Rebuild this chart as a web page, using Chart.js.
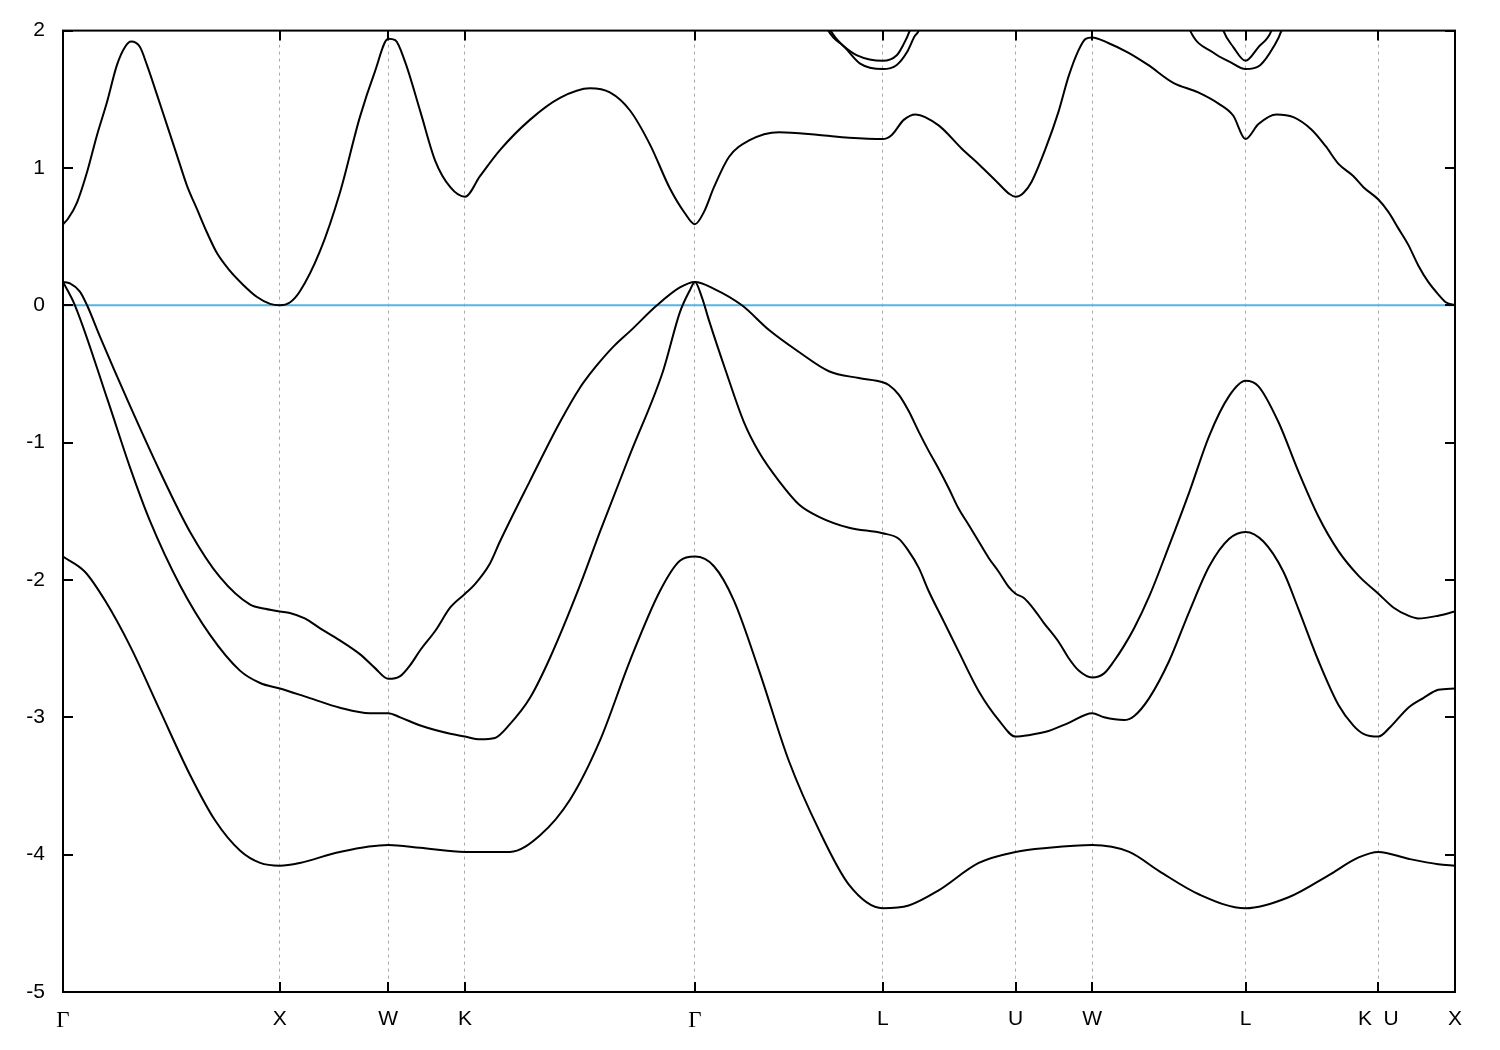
<!DOCTYPE html>
<html>
<head>
<meta charset="utf-8">
<script src="https://cdn.jsdelivr.net/npm/chart.js@4.4.1/dist/chart.umd.min.js"></script>
<style>
  html, body { margin: 0; padding: 0; background: #fff; }
</style>
</head>
<body>
<canvas id="bands" width="1500" height="1050"></canvas>
<script>
// high-symmetry points along the path (units of 2pi/a)
const kTicks = [0, 1, 1.5, 1.8536, 2.9142, 3.7802, 4.3926, 4.7462, 5.4533, 6.0657, 6.4193];
const kLabels = ["Γ", "X", "W", "K", "Γ", "L", "U", "W", "L", "K  U", "X"];
const eTicks = [-5, -4, -3, -2, -1, 0, 1, 2];

// bands as [k, E] pairs (eV)
const band1 = [[0,-1.83],[0.101,-1.94],[0.194,-2.15],[0.309,-2.48],[0.447,-2.95],[0.586,-3.42],[0.701,-3.75],[0.816,-3.97],[0.909,-4.06],[1.0,-4.08],[1.092,-4.06],[1.277,-3.98],[1.5,-3.93],[1.648,-3.95],[1.854,-3.98],[2.061,-3.98],[2.199,-3.86],[2.338,-3.60],[2.476,-3.17],[2.614,-2.59],[2.753,-2.08],[2.845,-1.86],[2.914,-1.83],[3.002,-1.90],[3.094,-2.15],[3.210,-2.66],[3.348,-3.32],[3.486,-3.82],[3.625,-4.22],[3.780,-4.39],[3.900,-4.37],[4.038,-4.26],[4.223,-4.06],[4.393,-3.98],[4.545,-3.95],[4.746,-3.93],[4.917,-3.98],[5.055,-4.12],[5.240,-4.29],[5.453,-4.39],[5.652,-4.31],[5.836,-4.15],[5.975,-4.02],[6.066,-3.98],[6.204,-4.03],[6.342,-4.07],[6.419,-4.08]];

const band2 = [[0,0.17],[0.055,0.0],[0.208,-0.70],[0.309,-1.18],[0.401,-1.57],[0.540,-2.04],[0.678,-2.40],[0.816,-2.66],[0.909,-2.75],[1.0,-2.79],[1.138,-2.86],[1.277,-2.93],[1.415,-2.97],[1.5,-2.97],[1.555,-3.00],[1.648,-3.06],[1.786,-3.12],[1.854,-3.14],[1.923,-3.16],[1.992,-3.15],[2.061,-3.05],[2.153,-2.86],[2.245,-2.57],[2.384,-2.04],[2.476,-1.65],[2.614,-1.09],[2.767,-0.48],[2.845,-0.05],[2.891,0.11],[2.914,0.17],[2.946,0.06],[2.979,-0.11],[3.057,-0.48],[3.140,-0.85],[3.210,-1.07],[3.302,-1.28],[3.394,-1.45],[3.486,-1.54],[3.625,-1.62],[3.780,-1.66],[3.854,-1.70],[3.900,-1.79],[3.946,-1.91],[3.992,-2.08],[4.061,-2.30],[4.130,-2.52],[4.223,-2.81],[4.315,-3.02],[4.393,-3.14],[4.453,-3.13],[4.545,-3.10],[4.638,-3.04],[4.746,-2.97],[4.801,-3.00],[4.893,-3.02],[4.940,-2.99],[5.009,-2.86],[5.101,-2.59],[5.194,-2.23],[5.286,-1.90],[5.378,-1.70],[5.453,-1.65],[5.536,-1.72],[5.628,-1.94],[5.697,-2.21],[5.790,-2.59],[5.882,-2.91],[5.951,-3.06],[5.997,-3.12],[6.066,-3.14],[6.121,-3.07],[6.204,-2.93],[6.273,-2.86],[6.342,-2.80],[6.419,-2.79]];

const band3 = [[0,0.17],[0.032,0.16],[0.078,0.10],[0.111,0.0],[0.171,-0.23],[0.300,-0.70],[0.447,-1.21],[0.586,-1.65],[0.724,-1.98],[0.863,-2.18],[0.932,-2.21],[1.0,-2.23],[1.046,-2.24],[1.115,-2.28],[1.184,-2.35],[1.277,-2.44],[1.369,-2.54],[1.438,-2.64],[1.5,-2.72],[1.555,-2.70],[1.601,-2.62],[1.648,-2.51],[1.717,-2.37],[1.786,-2.20],[1.854,-2.10],[1.900,-2.03],[1.969,-1.88],[2.015,-1.72],[2.153,-1.28],[2.292,-0.85],[2.384,-0.60],[2.430,-0.50],[2.476,-0.41],[2.545,-0.29],[2.614,-0.19],[2.739,0.0],[2.845,0.13],[2.914,0.17],[3.002,0.12],[3.131,0.0],[3.256,-0.18],[3.394,-0.34],[3.532,-0.48],[3.670,-0.53],[3.780,-0.56],[3.808,-0.58],[3.854,-0.65],[3.900,-0.77],[3.946,-0.92],[3.992,-1.06],[4.038,-1.19],[4.084,-1.33],[4.130,-1.48],[4.177,-1.60],[4.223,-1.72],[4.269,-1.84],[4.315,-1.94],[4.361,-2.05],[4.393,-2.10],[4.430,-2.13],[4.476,-2.21],[4.522,-2.31],[4.591,-2.45],[4.638,-2.57],[4.684,-2.66],[4.746,-2.71],[4.801,-2.68],[4.847,-2.59],[4.893,-2.48],[4.940,-2.35],[5.009,-2.12],[5.101,-1.75],[5.194,-1.36],[5.286,-0.95],[5.378,-0.66],[5.453,-0.55],[5.513,-0.59],[5.605,-0.85],[5.697,-1.21],[5.790,-1.54],[5.882,-1.79],[5.975,-1.97],[6.066,-2.10],[6.135,-2.20],[6.204,-2.26],[6.250,-2.28],[6.342,-2.26],[6.419,-2.23]];

const band4 = [[0,0.59],[0.023,0.63],[0.065,0.75],[0.111,0.97],[0.157,1.24],[0.203,1.48],[0.249,1.75],[0.286,1.88],[0.314,1.92],[0.355,1.88],[0.387,1.75],[0.434,1.53],[0.480,1.31],[0.526,1.09],[0.572,0.87],[0.618,0.70],[0.664,0.53],[0.710,0.38],[0.770,0.25],[0.830,0.15],[0.895,0.06],[0.955,0.01],[1.0,0.0],[1.046,0.02],[1.092,0.10],[1.184,0.39],[1.277,0.82],[1.369,1.37],[1.438,1.70],[1.5,1.94],[1.532,1.93],[1.578,1.77],[1.648,1.41],[1.717,1.05],[1.786,0.86],[1.854,0.79],[1.923,0.94],[2.015,1.13],[2.153,1.35],[2.292,1.51],[2.430,1.58],[2.522,1.55],[2.614,1.42],[2.707,1.17],[2.799,0.85],[2.868,0.67],[2.914,0.59],[2.956,0.68],[3.002,0.86],[3.071,1.08],[3.164,1.20],[3.302,1.26],[3.486,1.24],[3.625,1.22],[3.780,1.21],[3.822,1.24],[3.877,1.35],[3.932,1.39],[4.038,1.31],[4.145,1.14],[4.228,1.02],[4.306,0.90],[4.365,0.81],[4.393,0.79],[4.430,0.82],[4.467,0.90],[4.531,1.14],[4.591,1.41],[4.638,1.67],[4.684,1.86],[4.716,1.94],[4.746,1.95],[4.820,1.91],[4.912,1.84],[5.004,1.75],[5.120,1.62],[5.235,1.55],[5.327,1.47],[5.397,1.38],[5.453,1.21],[5.513,1.32],[5.596,1.39],[5.674,1.37],[5.757,1.28],[5.822,1.16],[5.882,1.03],[5.951,0.94],[5.997,0.86],[6.066,0.77],[6.112,0.68],[6.158,0.56],[6.204,0.44],[6.250,0.29],[6.296,0.17],[6.342,0.08],[6.379,0.02],[6.419,0.0]];

// upper bands poking in near the two L points
const band5a = [[3.51,2.08],[3.529,2.0],[3.598,1.89],[3.662,1.82],[3.780,1.78],[3.845,1.82],[3.873,1.89],[3.905,2.0],[3.92,2.08]];
const band6a = [[3.52,2.08],[3.54,2.0],[3.616,1.86],[3.676,1.76],[3.780,1.72],[3.845,1.75],[3.891,1.84],[3.928,1.96],[3.946,2.0],[3.955,2.06]];
const band5b = [[5.33,2.12],[5.351,2.0],[5.397,1.88],[5.453,1.78],[5.513,1.88],[5.573,2.0],[5.59,2.1]];
const band6b = [[5.17,2.15],[5.198,2.0],[5.304,1.84],[5.383,1.77],[5.453,1.72],[5.522,1.75],[5.582,1.88],[5.619,2.0],[5.63,2.07]];

const fermi = [[0, 0], [6.4193, 0]];

const toXY = arr => arr.map(p => ({ x: p[0], y: p[1] }));

const bandSet = (arr) => ({
  data: toXY(arr),
  borderColor: "#000",
  borderWidth: 2,
  pointRadius: 0,
  fill: false,
  cubicInterpolationMode: "monotone",
});

// frame with inward ticks on all four sides, like gnuplot
const framePlugin = {
  id: "frame",
  afterDatasetsDraw(chart) {
    const { ctx, chartArea: a, scales } = chart;
    const tl = 10;
    ctx.save();
    ctx.strokeStyle = "#000";
    ctx.lineWidth = 2;
    ctx.beginPath();
    scales.y.ticks.forEach((t) => {
      const py = Math.round(scales.y.getPixelForValue(t.value));
      ctx.moveTo(a.left, py); ctx.lineTo(a.left + tl, py);
      ctx.moveTo(a.right, py); ctx.lineTo(a.right - tl, py);
    });
    scales.x.ticks.forEach((t) => {
      const px = Math.round(scales.x.getPixelForValue(t.value));
      ctx.moveTo(px, a.bottom); ctx.lineTo(px, a.bottom - tl);
      ctx.moveTo(px, a.top); ctx.lineTo(px, a.top + tl);
    });
    ctx.stroke();
    ctx.strokeRect(a.left, a.top, a.right - a.left, a.bottom - a.top);
    ctx.restore();
  },
};

const ctx = document.getElementById("bands");
new Chart(ctx, {
  type: "line",
  data: {
    datasets: [
      bandSet(band1), bandSet(band2), bandSet(band3), bandSet(band4),
      bandSet(band5a), bandSet(band6a), bandSet(band5b), bandSet(band6b),
      {
        data: toXY(fermi),
        borderColor: "#56b4e9",
        borderWidth: 2,
        pointRadius: 0,
        fill: false,
      },
    ],
  },
  options: {
    responsive: false,
    animation: false,
    layout: { padding: { top: 28, right: 45, left: 0, bottom: 0 } },
    plugins: { legend: { display: false }, tooltip: { enabled: false } },
    scales: {
      x: {
        type: "linear",
        min: 0,
        max: kTicks[kTicks.length - 1],
        afterBuildTicks: (scale) => { scale.ticks = kTicks.map((v) => ({ value: v })); },
        afterFit: (scale) => { scale.height = 58; },
        ticks: {
          autoSkip: false,
          maxRotation: 0,
          padding: 15,
          color: "#000",
          font: (c) => (c.tick && kLabels[c.index] === "Γ")
            ? { family: "'Liberation Serif', 'DejaVu Serif', serif", size: 23 }
            : { family: "'Liberation Sans', Arial, sans-serif", size: 21 },
          callback: (v, i) => kLabels[i],
        },
        grid: {
          drawTicks: false,
          lineWidth: 1,
          color: (c) => (c.index === 0 || c.index === kTicks.length - 1) ? "rgba(0,0,0,0)" : "#a8a8a8",
        },
        border: { display: false, dash: [3, 4] },
      },
      y: {
        min: -5,
        max: 2,
        afterBuildTicks: (scale) => { scale.ticks = eTicks.map((v) => ({ value: v })); },
        afterFit: (scale) => { scale.width = 63; },
        ticks: {
          padding: 18,
          color: "#000",
          font: { family: "'Liberation Sans', Arial, sans-serif", size: 21 },
          callback: (v) => String(v),
        },
        grid: { display: false, drawTicks: false },
        border: { display: false },
      },
    },
  },
  plugins: [framePlugin],
});
</script>
</body>
</html>
